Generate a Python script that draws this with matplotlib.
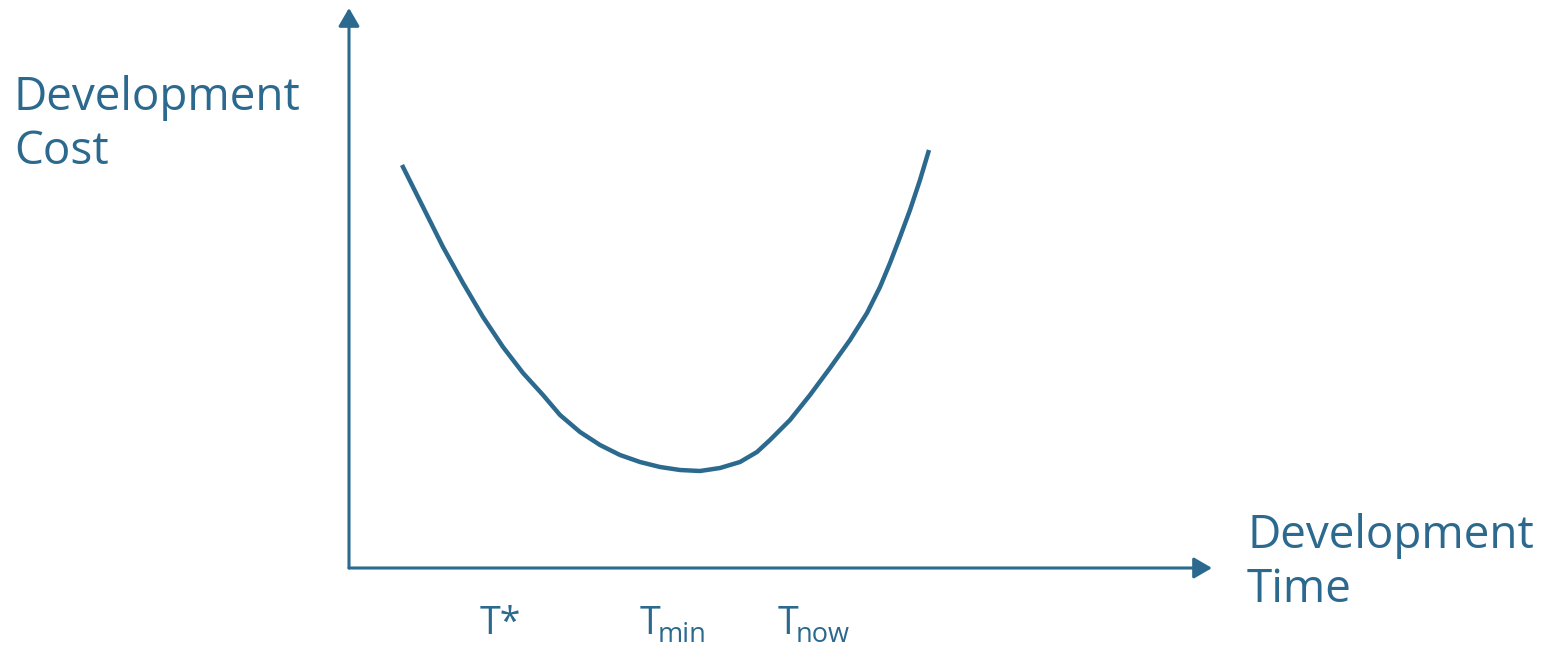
import matplotlib.pyplot as plt

# Curva de coste frente a tiempo de desarrollo (unidades relativas al origen de ejes)
tiempo = [53, 74, 94, 114, 134, 154, 174, 194, 211, 231, 251, 271, 291, 311, 331, 351,
          371, 391, 408, 421, 441, 461, 481, 501, 518, 531, 541, 551, 561, 571, 580]
coste = [403, 361, 321, 285, 251, 221, 195, 173, 153, 136, 123, 113, 106, 101, 98, 97,
         100, 106, 116, 128, 148, 173, 200, 228, 255, 281, 305, 331, 358, 388, 418]

tick_pos = [131, 291, 429]
tick_labels = ['T*', 'T', 'T']
tick_subs = ['', 'min', 'now']

color = '#2b6a8e'
plt.rcParams['font.family'] = ['Open Sans', 'DejaVu Sans']

fig = plt.figure(figsize=(15.47, 6.5), dpi=100)
ax = fig.add_axes([0, 0, 1, 1])
ax.set_xlim(-349, 1198)
ax.set_ylim(-82, 568)
ax.axis('off')

# Ejes con flechas
arrow = dict(arrowstyle='-|>,head_length=0.55,head_width=0.32', lw=2.2, color=color,
             mutation_scale=20, shrinkA=0, shrinkB=0)
ax.annotate('', xy=(863, 0), xytext=(0, 0), arrowprops=arrow)
ax.annotate('', xy=(0, 560), xytext=(0, 0), arrowprops=arrow)

ax.plot(tiempo, coste, color=color, lw=3.2, solid_capstyle='butt', solid_joinstyle='round')

for x, lab, sub in zip(tick_pos, tick_labels, tick_subs):
    ax.text(x, -66, lab, color=color, fontsize=27, ha='left', va='baseline')
    if sub:
        ax.annotate(sub, xy=(x, -66), xytext=(12.5, -5.5), textcoords='offset points',
                    color=color, fontsize=19.5, ha='left', va='baseline')

ax.text(-335, 404, 'Development\nCost', color=color, fontsize=33, ha='left',
        va='baseline', linespacing=1.22)
ax.text(898, -34, 'Development\nTime', color=color, fontsize=33, ha='left',
        va='baseline', linespacing=1.22)

fig.savefig('out.png', dpi=100)
